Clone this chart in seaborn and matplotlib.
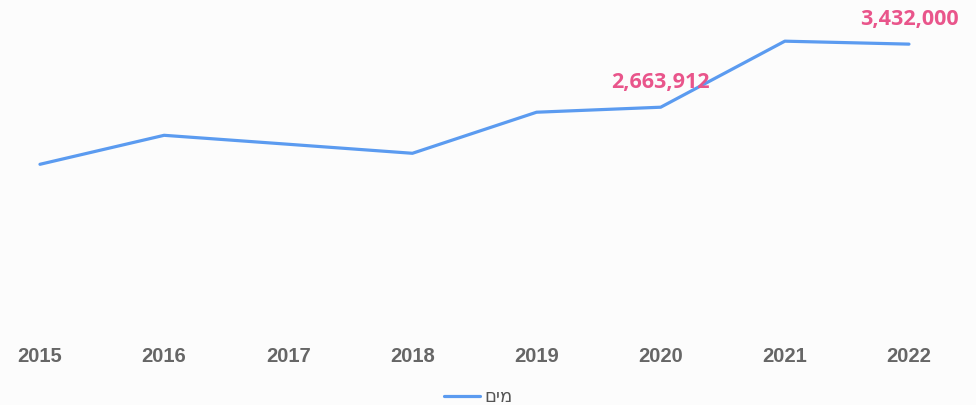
import numpy as np
import pandas as pd
import seaborn as sns
import matplotlib.pyplot as plt

sns.set_theme(style="white")
plt.rcParams['font.family'] = ['Liberation Sans', 'DejaVu Sans']

# values
years = ['2015', '2016', '2017', '2018', '2019', '2020', '2021', '2022']
water = [1969000, 2322000, 2213000, 2103000, 2603000, 2663912, 3468000, 3432000]
series_name = 'מים'
labelled = {'2020': '2,663,912', '2022': '3,432,000'}

df = pd.DataFrame({'year': years, 'value': water})
df['pos'] = np.arange(len(years))

fig = plt.figure(figsize=(9.76, 4.05), dpi=100)
fig.patch.set_facecolor('#fcfcfc')
ax = fig.add_axes([0, 0.195, 1, 0.78])
ax.set_facecolor('#fcfcfc')

# matplotlib has no bidi, so reverse the hebrew for display
sns.lineplot(data=df, x='pos', y='value', ax=ax, color='#5b9bf0', linewidth=2.3,
             label=series_name[::-1])

for yr, txt in labelled.items():
    i = years.index(yr)
    ax.annotate(txt, (i, water[i]), xytext=(0, 18), textcoords='offset points',
                ha='center', va='center', color='#e9558b', fontsize=15.5,
                fontweight='bold', family=['Open Sans', 'DejaVu Sans'])

ax.set_xlim(-0.322, 7.54)
ax.set_ylim(0, 3846000)
ax.set_xticks(df['pos'])
ax.set_xticklabels(years, fontsize=14.5, fontweight='bold', color='#666666')
ax.tick_params(axis='x', length=0, pad=15)
ax.set_yticks([])
ax.set_xlabel('')
ax.set_ylabel('')
sns.despine(ax=ax, left=True, bottom=True)

leg = ax.legend(loc='lower center', bbox_to_anchor=(0.49, -0.305), frameon=False,
                fontsize=13, handlelength=2.0, handletextpad=0.2)
for t in leg.get_texts():
    t.set_color('#555555')
    t.set_family(['DejaVu Sans'])

fig.savefig('out.png', dpi=100, facecolor=fig.get_facecolor())
